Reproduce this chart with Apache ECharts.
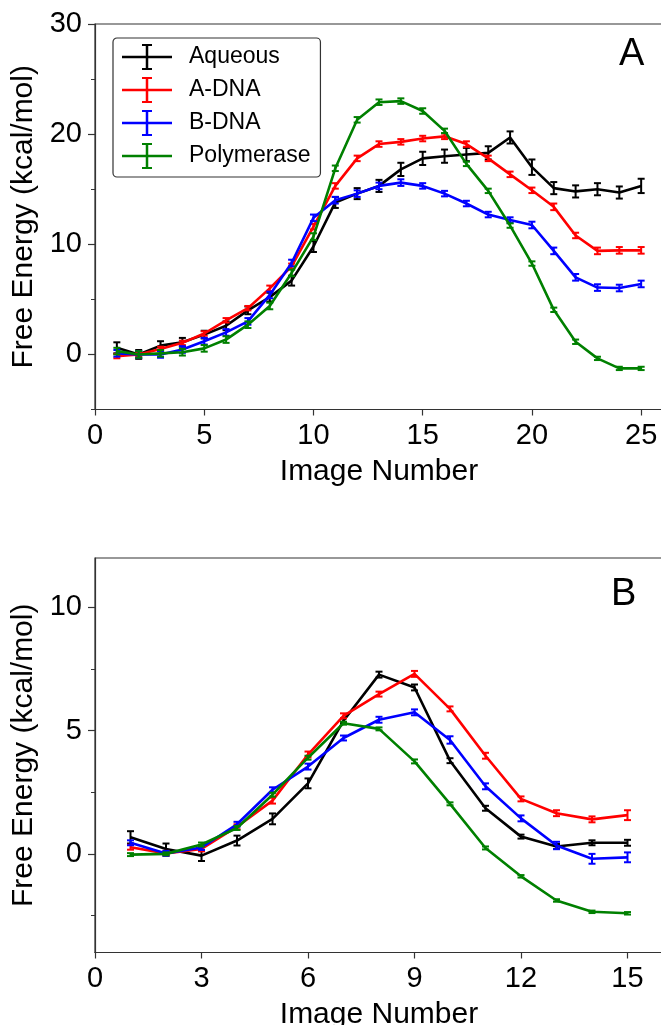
<!DOCTYPE html>
<html>
<head>
<meta charset="utf-8">
<script src="https://cdn.jsdelivr.net/npm/echarts@6/dist/echarts.min.js"></script>
<style>
  html, body { margin: 0; padding: 0; background: #fff; }
  #chart { width: 661px; height: 1025px; }
</style>
</head>
<body>
<div id="chart"></div>
<script>
// ---- Panel A: 25-image path ----
const imagesA = [1, 2, 3, 4, 5, 6, 7, 8, 9, 10, 11, 12, 13, 14, 15, 16, 17, 18, 19, 20, 21, 22, 23, 24, 25];
const aqueousA = [0.6, 0.0, 0.8, 1.1, 1.8, 2.6, 4.0, 5.2, 6.7, 9.8, 13.8, 14.6, 15.3, 16.8, 17.8, 18.0, 18.15, 18.3, 19.7, 17.0, 15.1, 14.8, 15.0, 14.7, 15.3];
const aqueousErrA = [0.5, 0.4, 0.4, 0.4, 0.35, 0.4, 0.35, 0.4, 0.45, 0.5, 0.5, 0.5, 0.55, 0.6, 0.6, 0.6, 0.6, 0.6, 0.55, 0.7, 0.55, 0.55, 0.55, 0.55, 0.65];
const adnaA = [-0.15, 0.0, 0.5, 1.05, 1.9, 3.1, 4.2, 6.0, 8.0, 11.6, 15.3, 17.8, 19.1, 19.3, 19.6, 19.8, 19.1, 17.8, 16.35, 14.9, 13.4, 10.8, 9.4, 9.45, 9.45];
const adnaErrA = [0.2, 0.2, 0.2, 0.2, 0.2, 0.2, 0.2, 0.25, 0.25, 0.25, 0.25, 0.25, 0.25, 0.25, 0.25, 0.25, 0.25, 0.25, 0.25, 0.25, 0.3, 0.25, 0.3, 0.3, 0.3];
const bdnaA = [0.1, 0.0, 0.0, 0.45, 1.2, 2.0, 3.0, 5.4, 8.3, 12.4, 14.0, 14.6, 15.3, 15.6, 15.3, 14.6, 13.7, 12.7, 12.2, 11.75, 9.4, 7.0, 6.07, 6.03, 6.4];
const bdnaErrA = [0.3, 0.3, 0.3, 0.3, 0.3, 0.3, 0.3, 0.3, 0.3, 0.3, 0.3, 0.3, 0.3, 0.3, 0.25, 0.25, 0.25, 0.25, 0.25, 0.3, 0.3, 0.3, 0.3, 0.3, 0.3];
const polA = [0.3, 0.0, 0.1, 0.2, 0.55, 1.35, 2.7, 4.4, 7.4, 10.7, 16.9, 21.3, 22.9, 23.0, 22.1, 20.3, 17.3, 14.85, 11.7, 8.25, 4.05, 1.15, -0.36, -1.27, -1.27];
const polErrA = [0.3, 0.3, 0.3, 0.3, 0.3, 0.3, 0.3, 0.3, 0.3, 0.3, 0.25, 0.25, 0.25, 0.25, 0.25, 0.2, 0.2, 0.2, 0.2, 0.2, 0.2, 0.2, 0.15, 0.15, 0.15];

// ---- Panel B: 15-image path ----
const imagesB = [1, 2, 3, 4, 5, 6, 7, 8, 9, 10, 11, 12, 13, 14, 15];
const aqueousB = [0.67, 0.2, -0.07, 0.54, 1.42, 2.86, 5.4, 7.27, 6.75, 3.78, 1.85, 0.7, 0.3, 0.45, 0.45];
const aqueousErrB = [0.25, 0.22, 0.22, 0.2, 0.22, 0.2, 0.1, 0.12, 0.12, 0.1, 0.1, 0.08, 0.1, 0.1, 0.12];
const adnaB = [0.27, 0.02, 0.2, 1.1, 2.16, 4.03, 5.6, 6.48, 7.3, 5.88, 3.98, 2.23, 1.65, 1.4, 1.57];
const adnaErrB = [0.1, 0.1, 0.1, 0.1, 0.12, 0.12, 0.1, 0.1, 0.12, 0.1, 0.12, 0.1, 0.12, 0.12, 0.2];
const bdnaB = [0.45, 0.02, 0.26, 1.2, 2.6, 3.54, 4.7, 5.44, 5.74, 4.62, 2.74, 1.44, 0.34, -0.2, -0.14];
const bdnaErrB = [0.1, 0.1, 0.1, 0.1, 0.1, 0.12, 0.1, 0.12, 0.12, 0.15, 0.12, 0.12, 0.15, 0.2, 0.2];
const polB = [-0.03, 0.0, 0.38, 1.05, 2.4, 3.9, 5.3, 5.07, 3.75, 2.03, 0.24, -0.91, -1.89, -2.35, -2.41];
const polErrB = [0.06, 0.06, 0.08, 0.08, 0.08, 0.08, 0.06, 0.06, 0.08, 0.06, 0.06, 0.05, 0.05, 0.05, 0.05];

// ---- Axis ticks ----
const yMajorA = [0, 10, 20, 30];
const yMinorA = [-5, 5, 15, 25];
const yMajorB = [0, 5, 10];
const yMinorB = [-2.5, 2.5, 7.5];

const seriesNames = ['Aqueous', 'A-DNA', 'B-DNA', 'Polymerase'];
const seriesColors = ['#000000', '#ff0000', '#0000ff', '#008000'];

const FONT = "'Liberation Sans', Arial, sans-serif";
const AXIS_COLOR = '#333333';

function pairs(xs, ys) { return xs.map((x, i) => [x, ys[i]]); }
function bars(xs, ys, es) { return xs.map((x, i) => [x, ys[i] - es[i], ys[i] + es[i]]); }

// vertical error bar with caps, drawn through the axis scales
function errorBarRenderer(color) {
  return function (params, api) {
    const x = api.value(0);
    const lo = api.coord([x, api.value(1)]);
    const hi = api.coord([x, api.value(2)]);
    const hw = 3.5;
    const st = { stroke: color, lineWidth: 2 };
    return {
      type: 'group',
      children: [
        { type: 'line', shape: { x1: lo[0], y1: lo[1], x2: hi[0], y2: hi[1] }, style: st },
        { type: 'line', shape: { x1: lo[0] - hw, y1: lo[1], x2: lo[0] + hw, y2: lo[1] }, style: st },
        { type: 'line', shape: { x1: hi[0] - hw, y1: hi[1], x2: hi[0] + hw, y2: hi[1] }, style: st }
      ]
    };
  };
}

function panelSeries(gridIdx, xs, values, errors) {
  const out = [];
  values.forEach((ys, k) => {
    out.push({
      type: 'line',
      name: seriesNames[k],
      xAxisIndex: gridIdx,
      yAxisIndex: gridIdx * 2,
      data: pairs(xs, ys),
      symbol: 'none',
      lineStyle: { color: seriesColors[k], width: 2.6 },
      itemStyle: { color: seriesColors[k] },
      z: 2 + k
    });
    out.push({
      type: 'custom',
      name: seriesNames[k],
      xAxisIndex: gridIdx,
      yAxisIndex: gridIdx * 2,
      data: bars(xs, ys, errors[k]),
      encode: { x: 0, y: [1, 2] },
      renderItem: errorBarRenderer(seriesColors[k]),
      itemStyle: { color: seriesColors[k] },
      z: 2 + k
    });
  });
  return out;
}

function xAxisCfg(gridIdx, max, interval) {
  return {
    type: 'value', gridIndex: gridIdx, min: 0, max: max, interval: interval,
    position: 'bottom',
    name: 'Image Number', nameLocation: 'middle', nameGap: 47,
    nameTextStyle: { fontFamily: FONT, fontSize: 30, color: '#000' },
    axisLine: { show: true, onZero: false, lineStyle: { color: AXIS_COLOR, width: 1.2 } },
    axisTick: { show: true, inside: false, length: 6, lineStyle: { color: AXIS_COLOR, width: 1.2 } },
    axisLabel: { fontFamily: FONT, fontSize: 29, color: '#000', margin: 12, showMaxLabel: false },
    splitLine: { show: false }
  };
}

function yAxesCfg(gridIdx, min, max, major, minor) {
  return [
    {
      type: 'value', gridIndex: gridIdx, min: min, max: max, position: 'left',
      name: 'Free Energy (kcal/mol)', nameLocation: 'middle', nameGap: 49,
      nameTextStyle: { fontFamily: FONT, fontSize: 30, color: '#000' },
      axisLine: { show: true, onZero: false, lineStyle: { color: AXIS_COLOR, width: 1.2 } },
      axisTick: { show: true, inside: false, length: 7, customValues: major, lineStyle: { color: AXIS_COLOR, width: 1.2 } },
      axisLabel: { fontFamily: FONT, fontSize: 29, color: '#000', margin: 13, customValues: major },
      splitLine: { show: false }
    },
    {
      type: 'value', gridIndex: gridIdx, min: min, max: max, position: 'left',
      axisLine: { show: false, onZero: false },
      axisTick: { show: true, inside: false, length: 4, customValues: minor, lineStyle: { color: AXIS_COLOR, width: 1 } },
      axisLabel: { show: false },
      splitLine: { show: false }
    }
  ];
}

// Legend glyph: horizontal line crossed by a capped error bar
const legendIcon = 'path://M0,11.75H50V14.25H0Z M23.75,0H26.25V26H23.75Z M20,0H30V2H20Z M20,24H30V26H20Z';

const chart = echarts.init(document.getElementById('chart'), null, { renderer: 'canvas' });
chart.setOption({
  animation: false,
  backgroundColor: '#ffffff',
  textStyle: { fontFamily: FONT },
  grid: [
    { left: 95, width: 568, top: 24, height: 385.5, show: true, borderColor: AXIS_COLOR, borderWidth: 1.2, backgroundColor: 'transparent', containLabel: false, outerBoundsMode: 'none' },
    { left: 95, width: 568, top: 558, height: 394.5, show: true, borderColor: AXIS_COLOR, borderWidth: 1.2, backgroundColor: 'transparent', containLabel: false, outerBoundsMode: 'none' }
  ],
  xAxis: [xAxisCfg(0, 26, 5), xAxisCfg(1, 16, 3)],
  yAxis: [].concat(yAxesCfg(0, -5, 30, yMajorA, yMinorA), yAxesCfg(1, -4, 12, yMajorB, yMinorB)),
  legend: {
    data: seriesNames,
    orient: 'vertical',
    left: 113, top: 38,
    padding: [6, 10, 8, 9],
    itemGap: 7,
    itemWidth: 50, itemHeight: 26,
    icon: legendIcon,
    backgroundColor: '#ffffff',
    borderColor: AXIS_COLOR, borderWidth: 1.2, borderRadius: 4,
    textStyle: { fontFamily: FONT, fontSize: 23, color: '#000', padding: [0, 0, 0, 12] },
    selectedMode: false
  },
  graphic: [
    { type: 'text', left: 619, top: 36, style: { text: 'A', font: '38px ' + FONT, fill: '#000' } },
    { type: 'text', left: 611, top: 576, style: { text: 'B', font: '38px ' + FONT, fill: '#000' } }
  ],
  series: [].concat(
    panelSeries(0, imagesA, [aqueousA, adnaA, bdnaA, polA], [aqueousErrA, adnaErrA, bdnaErrA, polErrA]),
    panelSeries(1, imagesB, [aqueousB, adnaB, bdnaB, polB], [aqueousErrB, adnaErrB, bdnaErrB, polErrB])
  )
});
</script>
</body>
</html>
